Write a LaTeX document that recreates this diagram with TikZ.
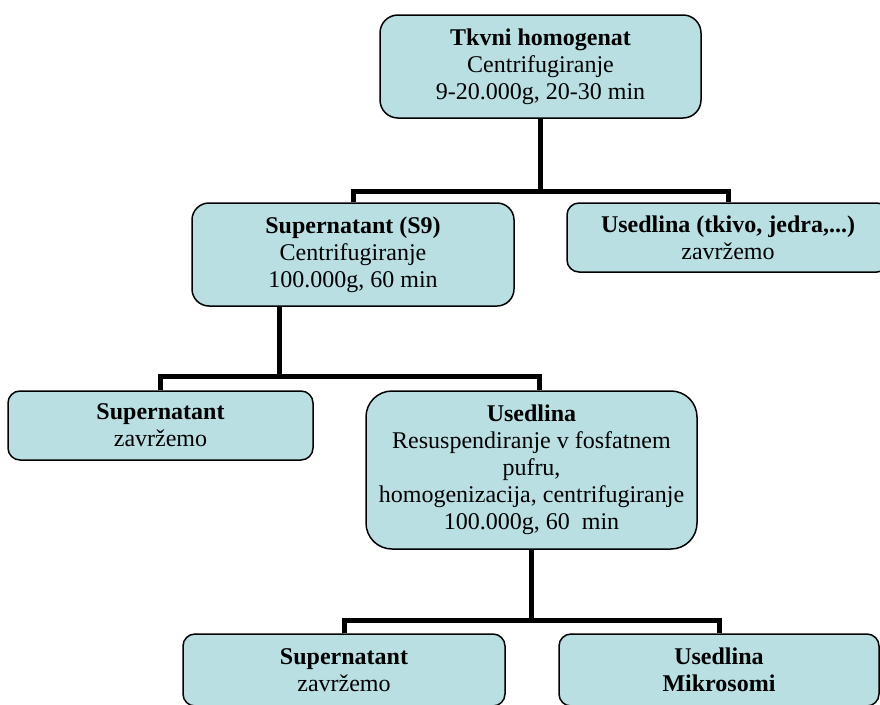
\documentclass[tikz,border=0pt]{standalone}
\usepackage{fontspec}
\setmainfont{Liberation Serif}
\usetikzlibrary{positioning,calc}
\definecolor{boxfill}{RGB}{185,223,226}
\tikzset{
  stage/.style={draw=black,line width=1.5pt,fill=boxfill,rounded corners=#1,
    align=center,inner sep=0pt,font=\fontsize{24}{27}\selectfont},
  link/.style={draw=black,line width=5pt}
}

\begin{document}
\begin{tikzpicture}[x=1pt,y=-1pt]
        \useasboundingbox (0,0) rectangle (880,704);
        \clip (0,0) rectangle (880,704);
        % draw nodes
        \node[stage=18pt,minimum width=321pt,minimum height=103pt] (homog) at (540.5,66.5)
          {\textbf{Tkvni homogenat}\\Centrifugiranje\\9-20.000g, 20-30 min};
        \node[stage=17pt,minimum width=322pt,minimum height=103pt] (s9) at (353,254.5)
          {\textbf{Supernatant (S9)}\\Centrifugiranje\\100.000g, 60 min};
        \node[stage=12pt,minimum width=322pt,minimum height=69pt] (tkivo) at (728,237.5)
          {\textbf{Usedlina (tkivo, jedra,...)}\\zavržemo};
        \node[stage=12pt,minimum width=305pt,minimum height=69pt] (sup1) at (160.5,425.5)
          {\textbf{Supernatant}\\zavržemo};
        \node[stage=26pt,minimum width=331pt,minimum height=158pt] (usedl) at (531.5,470)
          {\textbf{Usedlina}\\Resuspendiranje v fosfatnem\\pufru,\\homogenizacija, centrifugiranje\\100.000g, 60~~min};
        \node[stage=12pt,minimum width=322pt,minimum height=72pt] (sup2) at (344,670)
          {\textbf{Supernatant}\\zavržemo};
        \node[stage=12pt,minimum width=320pt,minimum height=72pt] (mikro) at (719,670)
          {\textbf{Usedlina}\\\textbf{Mikrosomi}};
        % draw branch points
        \coordinate (j1) at (homog.south |- 0,191);
        \coordinate (j2) at (279,376);
        \coordinate (j3) at (usedl.south |- 0,620);
        % draw lines
        \draw[link] (homog.south) -- (j1);
        \draw[link] (s9.north) |- (j1) -| (tkivo.north);
        \draw[link] (s9.south -| j2) -- (j2);
        \draw[link] (sup1.north) |- (j2) -| ([xshift=7.5pt]usedl.north);
        \draw[link] (usedl.south) -- (j3);
        \draw[link] (sup2.north) |- (j3) -| (mikro.north);
\end{tikzpicture}
\end{document}
